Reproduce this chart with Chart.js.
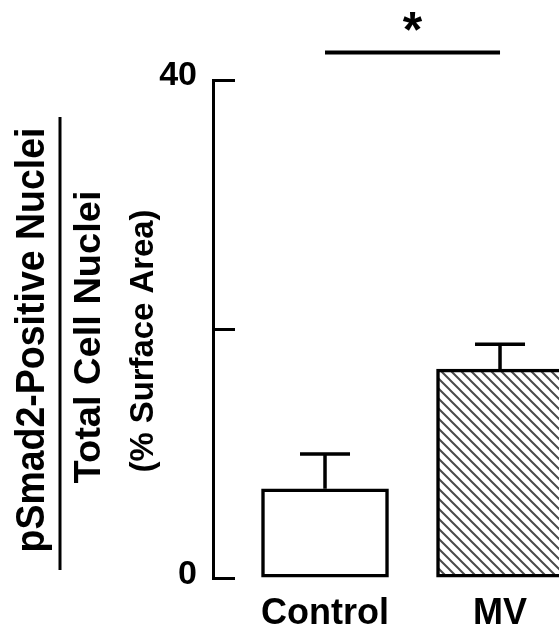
<!DOCTYPE html>
<html>
<head>
<meta charset="utf-8">
<script src="https://cdn.jsdelivr.net/npm/chart.js@4.4.1/dist/chart.umd.min.js"></script>
<style>
  body { margin: 0; background: #fff; }
  canvas { display: block; }
</style>
</head>
<body>
<canvas id="myChart" width="559" height="637"></canvas>
<script>
// values
var categories = ['Control', 'MV'];
var means = [7.2, 16.8];
var sems = [2.8, 2.0];
var yTicks = [0, 20, 40];
var sigLevel = 42.2;   // height of the significance bar, in axis units

var ctx = document.getElementById('myChart').getContext('2d');

function hatch() {
    var n = 10;
    var c = document.createElement('canvas');
    c.width = n; c.height = n;
    var g = c.getContext('2d');
    g.fillStyle = '#fff';
    g.fillRect(0, 0, n, n);
    g.strokeStyle = '#4a4a4a';
    g.lineWidth = 2;
    g.beginPath();
    g.moveTo(-2, -2); g.lineTo(n + 2, n + 2);
    g.moveTo(-2, n - 2); g.lineTo(2, n + 2);
    g.moveTo(n - 2, -2); g.lineTo(n + 2, 2);
    g.stroke();
    return ctx.createPattern(c, 'repeat');
}

// error bars on top of each bar
var errorBars = {
    id: 'errorBars',
    afterDatasetsDraw: function(chart) {
        var c = chart.ctx, y = chart.scales.y;
        var meta = chart.getDatasetMeta(0);
        c.save();
        c.strokeStyle = '#000';
        c.lineWidth = 3.5;
        meta.data.forEach(function(bar, i) {
            var top = y.getPixelForValue(means[i] + sems[i]);
            c.beginPath();
            c.moveTo(bar.x, bar.y);
            c.lineTo(bar.x, top);
            c.moveTo(bar.x - 25, top);
            c.lineTo(bar.x + 25, top);
            c.stroke();
        });
        c.restore();
    }
};

// significance bar + asterisk
var sigBar = {
    id: 'sigBar',
    afterDraw: function(chart) {
        var c = chart.ctx, x = chart.scales.x, y = chart.scales.y;
        var x0 = x.getPixelForValue(0), x1 = x.getPixelForValue(1);
        var yy = y.getPixelForValue(sigLevel);
        c.save();
        c.strokeStyle = '#000';
        c.lineWidth = 4;
        c.beginPath();
        c.moveTo(x0, yy);
        c.lineTo(x1, yy);
        c.stroke();
        c.fillStyle = '#000';
        c.font = 'bold 50px "Liberation Sans", Arial, sans-serif';
        c.textAlign = 'center';
        c.textBaseline = 'alphabetic';
        c.fillText('*', (x0 + x1) / 2, yy - 6);
        c.restore();
    }
};

// stacked y title: numerator / denominator with a fraction line
var yTitle = {
    id: 'yTitle',
    afterDraw: function(chart) {
        var c = chart.ctx;
        var lines = [
            {text: 'pSmad2-Positive Nuclei', x: 44, y: 340, size: 41, len: 425},
            {text: 'Total Cell Nuclei', x: 100, y: 337, size: 37, len: 293},
            {text: '(% Surface Area)', x: 153, y: 341, size: 33, len: 263}
        ];
        c.save();
        c.fillStyle = '#000';
        lines.forEach(function(l) {
            c.save();
            c.font = 'bold ' + l.size + 'px "Liberation Sans", Arial, sans-serif';
            var w = c.measureText(l.text).width;
            c.translate(l.x, l.y);
            c.rotate(-Math.PI / 2);
            c.scale(l.len / w, 1);
            c.textAlign = 'center';
            c.textBaseline = 'alphabetic';
            c.fillText(l.text, 0, 0);
            c.restore();
        });
        c.strokeStyle = '#000';
        c.lineWidth = 3;
        c.beginPath();
        c.moveTo(60, 117);
        c.lineTo(60, 570);
        c.stroke();
        c.restore();
    }
};

var myChart = new Chart(ctx, {
    type: 'bar',
    data: {
        datasets: [{
            data: categories.map(function(c, i) { return {x: i, y: means[i]}; }),
            backgroundColor: ['#fff', hatch()],
            borderColor: '#000',
            borderWidth: 3.5,
            borderSkipped: false,
            barThickness: 127
        }]
    },
    options: {
        responsive: false,
        animation: false,
        layout: { padding: { top: 80, left: 0, right: 0, bottom: 0 } },
        plugins: { legend: { display: false }, tooltip: { enabled: false } },
        scales: {
            x: {
                type: 'linear',
                offset: false,
                min: -0.64,
                max: 1.337,
                grid: { display: false, drawTicks: false, offset: false },
                border: { display: false },
                afterBuildTicks: function(s) {
                    s.ticks = categories.map(function(c, i) { return {value: i}; });
                },
                afterFit: function(s) { s.height = 54; },
                ticks: {
                    autoSkip: false,
                    maxRotation: 0,
                    padding: 14,
                    color: '#000',
                    font: { family: '"Liberation Sans", Arial, sans-serif', size: 36, weight: 'bold' },
                    callback: function(v) { return categories[v]; }
                }
            },
            y: {
                min: 0,
                max: 40,
                afterBuildTicks: function(s) {
                    s.ticks = yTicks.map(function(v) { return {value: v}; });
                },
                afterFit: function(s) { s.width = 213; },
                grid: { drawOnChartArea: false, tickLength: -22, lineWidth: 3, color: '#000' },
                border: { display: true, width: 3, color: '#000' },
                ticks: {
                    padding: 38,
                    labelOffset: -4,
                    color: '#000',
                    font: { family: '"Liberation Sans", Arial, sans-serif', size: 34, weight: 'bold' },
                    callback: function(v) { return v === 20 ? '' : v; }
                }
            }
        }
    },
    plugins: [errorBars, sigBar, yTitle]
});
</script>
</body>
</html>
